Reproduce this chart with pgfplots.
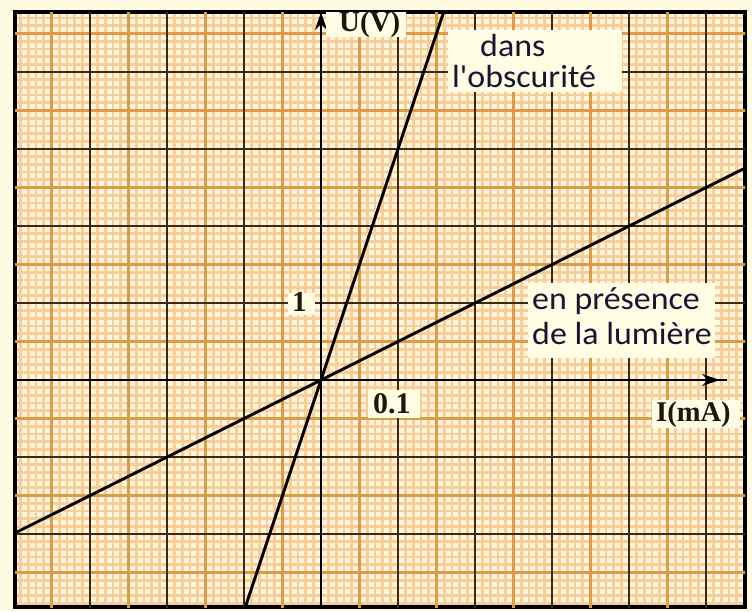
\documentclass[border=0pt]{standalone}
\usepackage{fontspec}
\usepackage{pgfplots}
\pgfplotsset{compat=1.18}
\usetikzlibrary{arrows.meta}
\setmainfont{Liberation Serif}
\newfontfamily\lab[FakeStretch=1.06]{Carlito}
\definecolor{outcream}{RGB}{255,251,227}
\definecolor{papercream}{RGB}{255,245,220}
\definecolor{fineline}{RGB}{249,205,152}
\definecolor{medline}{RGB}{218,156,70}
\definecolor{majline}{RGB}{62,40,14}
\definecolor{boxcream}{RGB}{255,252,228}
\definecolor{navytext}{RGB}{22,22,52}
\definecolor{serifink}{RGB}{30,22,12}
\begin{document}
\begin{tikzpicture}
\fill[outcream] (0,0) rectangle (752pt,611pt);
\useasboundingbox (0,0) rectangle (752pt,611pt);
\begin{axis}[
  at={(15pt,4pt)}, anchor=south west,
  scale only axis, width=730pt, height=595pt,
  xmin=-0.3974, xmax=0.5506, ymin=-2.948, ymax=4.779,
  axis background/.style={fill=papercream},
  xtick={-0.3,-0.2,-0.1,0,0.1,0.2,0.3,0.4,0.5},
  ytick={-2,-1,0,1,2,3,4},
  minor xtick={-0.39,-0.38,...,0.55},
  minor ytick={-2.9,-2.8,...,4.75},
  xticklabels={}, yticklabels={},
  major tick length=0pt, minor tick length=0pt,
  grid=both,
  minor grid style={color=fineline, line width=2.7pt},
  major grid style={draw=none},
  axis line style={line width=4pt, black},
  clip=true,
]
% medium lines (every 0.05 mA and 0.5 V)
\pgfplotsinvokeforeach{-0.35,-0.25,-0.15,-0.05,0.05,0.15,0.25,0.35,0.45}{
  \draw[color=medline, line width=2.2pt] (axis cs:#1,-3) -- (axis cs:#1,4.8);}
\pgfplotsinvokeforeach{-2.5,-1.5,-0.5,0.5,1.5,2.5,3.5,4.5}{
  \draw[color=medline, line width=2.2pt] (axis cs:-0.4,#1) -- (axis cs:0.56,#1);}
% major lines (every 0.1 mA and 1 V)
\pgfplotsinvokeforeach{-0.3,-0.2,-0.1,0.1,0.2,0.3,0.4,0.5}{
  \draw[color=majline, line width=2.3pt] (axis cs:#1,-3) -- (axis cs:#1,4.8);}
\pgfplotsinvokeforeach{-2,-1,1,2,3,4}{
  \draw[color=majline, line width=2.3pt] (axis cs:-0.4,#1) -- (axis cs:0.56,#1);}
% zero axes
\draw[line width=2.6pt, black] (axis cs:-0.4,0) -- (axis cs:0.527,0);
\draw[line width=2.6pt, black, -{Stealth[length=18pt,width=12pt]}] (axis cs:-0.4,0) -- (axis cs:0.518,0);
\draw[line width=2.6pt, black, -{Stealth[length=18pt,width=12pt]}] (axis cs:0,-3) -- (axis cs:0,4.779);
% dans l'obscurite : R = 30 kOhm
\addplot[black, line width=2.9pt] coordinates {(-0.1,-3) (0.16,4.8)};
% en presence de la lumiere : R = 5 kOhm
\addplot[black, line width=2.9pt] coordinates {(-0.4,-2) (0.56,2.8)};
\end{axis}
\begin{scope}[x=1pt,y=-1pt,yshift=611pt]
% label boxes
\fill[boxcream] (326,12) rectangle (406,37);
\fill[boxcream] (448,30) rectangle (622,92);
\fill[boxcream] (528,283) rectangle (715,358);
\fill[boxcream] (652,400) rectangle (740,428);
\fill[boxcream] (368,390) rectangle (420,418);
\fill[boxcream] (288,293) rectangle (315,315);
% serif labels
\node[anchor=base west, inner sep=0pt, text=serifink, font=\fontsize{29}{29}\selectfont\bfseries] at (339,32) {U(V)};
\node[anchor=base west, inner sep=0pt, text=serifink, font=\fontsize{28.5}{29}\selectfont\bfseries] at (656,421) {I(mA)};
\node[anchor=base west, inner sep=0pt, text=serifink, font=\fontsize{30}{30}\selectfont\bfseries] at (373,413) {0.1};
\node[anchor=base west, inner sep=0pt, text=serifink, font=\fontsize{29}{29}\selectfont\bfseries] at (292,312) {1};
% sans labels
\node[anchor=base west, inner sep=0pt, text=navytext, font=\lab\fontsize{32}{32}\selectfont] at (480,57) {dans};
\node[anchor=base west, inner sep=0pt, text=navytext, font=\lab\fontsize{32}{32}\selectfont] at (452,88) {l'obscurité};
\node[anchor=base west, inner sep=0pt, text=navytext, font=\lab\fontsize{32}{32}\selectfont] at (532,310) {en présence};
\node[anchor=base west, inner sep=0pt, text=navytext, font=\lab\fontsize{32}{32}\selectfont] at (532,345) {de la lumière};
\end{scope}
\end{tikzpicture}
\end{document}
